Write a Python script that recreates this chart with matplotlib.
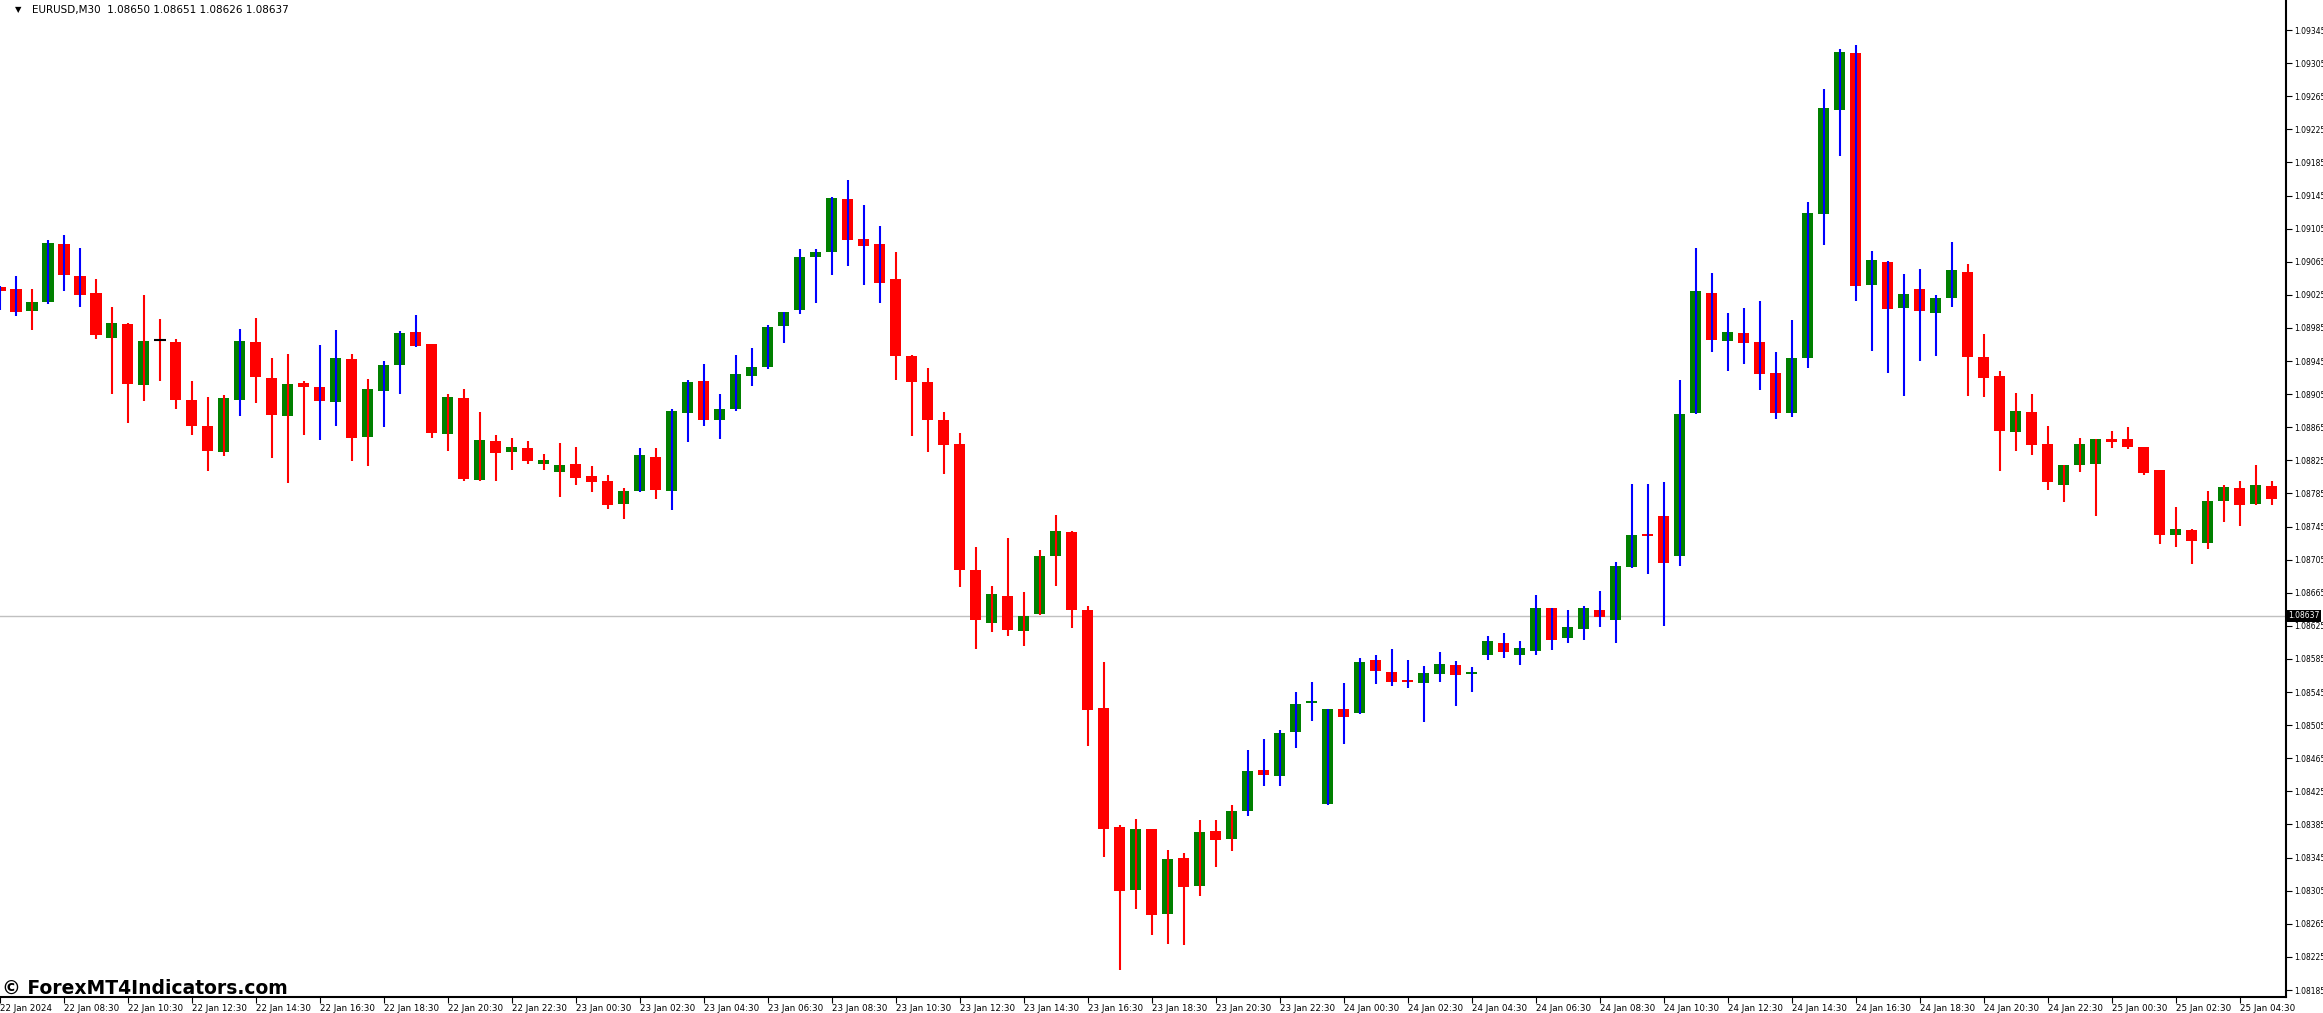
import matplotlib
matplotlib.use("Agg")
import matplotlib.pyplot as plt
import numpy as np

# EURUSD M30 candles, 22 Jan 2024 -> 25 Jan 2024
opens = [1.09035, 1.09032, 1.09005, 1.09016, 1.09086, 1.09048, 1.09027, 1.08973, 1.08990, 1.08916,
         1.08970, 1.08968, 1.08898, 1.08866, 1.08835, 1.08898, 1.08968, 1.08924, 1.08879, 1.08918,
         1.08914, 1.08895, 1.08947, 1.08853, 1.08909, 1.08940, 1.08980, 1.08966, 1.08857, 1.08900,
         1.08801, 1.08848, 1.08835, 1.08840, 1.08821, 1.08811, 1.08821, 1.08806, 1.08800, 1.08772,
         1.08788, 1.08829, 1.08788, 1.08882, 1.08921, 1.08874, 1.08887, 1.08927, 1.08938, 1.08987,
         1.09007, 1.09071, 1.09077, 1.09141, 1.09093, 1.09086, 1.09044, 1.08951, 1.08920, 1.08874,
         1.08845, 1.08692, 1.08628, 1.08661, 1.08619, 1.08639, 1.08709, 1.08738, 1.08644, 1.08526,
         1.08382, 1.08306, 1.08380, 1.08277, 1.08345, 1.08311, 1.08377, 1.08368, 1.08401, 1.08451,
         1.08444, 1.08497, 1.08532, 1.08410, 1.08524, 1.08520, 1.08584, 1.08569, 1.08560, 1.08556,
         1.08567, 1.08578, 1.08567, 1.08590, 1.08604, 1.08590, 1.08595, 1.08647, 1.08610, 1.08621,
         1.08644, 1.08632, 1.08696, 1.08736, 1.08758, 1.08709, 1.08882, 1.09027, 1.08969, 1.08979,
         1.08968, 1.08931, 1.08882, 1.08949, 1.09123, 1.09248, 1.09317, 1.09037, 1.09065, 1.09009,
         1.09032, 1.09003, 1.09021, 1.09053, 1.08950, 1.08927, 1.08859, 1.08883, 1.08845, 1.08795,
         1.08819, 1.08821, 1.08851, 1.08851, 1.08841, 1.08813, 1.08735, 1.08741, 1.08725, 1.08776,
         1.08792, 1.08772, 1.08794]
highs = [1.09036, 1.09048, 1.09032, 1.09091, 1.09097, 1.09082, 1.09044, 1.09010, 1.08991, 1.09025,
         1.08996, 1.08972, 1.08921, 1.08901, 1.08904, 1.08984, 1.08997, 1.08949, 1.08953, 1.08921,
         1.08964, 1.08982, 1.08953, 1.08923, 1.08945, 1.08981, 1.09001, 1.08966, 1.08905, 1.08911,
         1.08883, 1.08856, 1.08852, 1.08848, 1.08833, 1.08846, 1.08841, 1.08818, 1.08807, 1.08792,
         1.08840, 1.08840, 1.08887, 1.08922, 1.08941, 1.08905, 1.08952, 1.08961, 1.08988, 1.09004,
         1.09080, 1.09080, 1.09143, 1.09164, 1.09133, 1.09108, 1.09077, 1.08952, 1.08937, 1.08883,
         1.08858, 1.08720, 1.08673, 1.08731, 1.08666, 1.08717, 1.08759, 1.08740, 1.08649, 1.08581,
         1.08384, 1.08392, 1.08380, 1.08354, 1.08351, 1.08390, 1.08390, 1.08408, 1.08475, 1.08488,
         1.08499, 1.08545, 1.08557, 1.08524, 1.08556, 1.08586, 1.08590, 1.08597, 1.08584, 1.08576,
         1.08593, 1.08582, 1.08575, 1.08613, 1.08616, 1.08607, 1.08662, 1.08647, 1.08644, 1.08649,
         1.08667, 1.08702, 1.08796, 1.08796, 1.08799, 1.08922, 1.09082, 1.09051, 1.09003, 1.09009,
         1.09017, 1.08956, 1.08995, 1.09137, 1.09274, 1.09322, 1.09327, 1.09078, 1.09066, 1.09050,
         1.09056, 1.09025, 1.09089, 1.09062, 1.08978, 1.08933, 1.08906, 1.08905, 1.08866, 1.08819,
         1.08852, 1.08851, 1.08860, 1.08865, 1.08841, 1.08813, 1.08769, 1.08742, 1.08788, 1.08795,
         1.08800, 1.08819, 1.08800]
lows = [1.09007, 1.08999, 1.08982, 1.09014, 1.09030, 1.09010, 1.08972, 1.08905, 1.08870, 1.08897,
        1.08921, 1.08887, 1.08856, 1.08812, 1.08830, 1.08879, 1.08894, 1.08828, 1.08798, 1.08856,
        1.08850, 1.08866, 1.08824, 1.08818, 1.08865, 1.08905, 1.08962, 1.08852, 1.08836, 1.08800,
        1.08800, 1.08800, 1.08813, 1.08821, 1.08813, 1.08781, 1.08795, 1.08787, 1.08766, 1.08754,
        1.08787, 1.08778, 1.08765, 1.08847, 1.08866, 1.08851, 1.08885, 1.08915, 1.08935, 1.08967,
        1.09002, 1.09015, 1.09049, 1.09060, 1.09037, 1.09015, 1.08922, 1.08854, 1.08835, 1.08808,
        1.08672, 1.08597, 1.08618, 1.08613, 1.08601, 1.08638, 1.08673, 1.08622, 1.08480, 1.08346,
        1.08209, 1.08283, 1.08252, 1.08241, 1.08239, 1.08299, 1.08334, 1.08353, 1.08395, 1.08431,
        1.08431, 1.08477, 1.08510, 1.08408, 1.08482, 1.08518, 1.08555, 1.08552, 1.08550, 1.08509,
        1.08557, 1.08528, 1.08545, 1.08584, 1.08586, 1.08578, 1.08590, 1.08596, 1.08604, 1.08608,
        1.08624, 1.08604, 1.08695, 1.08688, 1.08625, 1.08697, 1.08881, 1.08956, 1.08933, 1.08941,
        1.08910, 1.08875, 1.08877, 1.08937, 1.09085, 1.09193, 1.09017, 1.08957, 1.08931, 1.08903,
        1.08945, 1.08951, 1.09010, 1.08903, 1.08901, 1.08812, 1.08836, 1.08831, 1.08789, 1.08775,
        1.08811, 1.08758, 1.08840, 1.08839, 1.08807, 1.08724, 1.08720, 1.08700, 1.08718, 1.08751,
        1.08746, 1.08771, 1.08771]
closes = [1.09030, 1.09004, 1.09016, 1.09088, 1.09049, 1.09025, 1.08976, 1.08991, 1.08917, 1.08969,
          1.08970, 1.08898, 1.08866, 1.08836, 1.08900, 1.08969, 1.08926, 1.08880, 1.08917, 1.08914,
          1.08897, 1.08949, 1.08852, 1.08911, 1.08940, 1.08979, 1.08963, 1.08858, 1.08901, 1.08802,
          1.08850, 1.08834, 1.08841, 1.08824, 1.08825, 1.08819, 1.08804, 1.08799, 1.08771, 1.08788,
          1.08831, 1.08789, 1.08885, 1.08920, 1.08874, 1.08887, 1.08929, 1.08938, 1.08986, 1.09004,
          1.09071, 1.09077, 1.09142, 1.09091, 1.09084, 1.09039, 1.08951, 1.08920, 1.08874, 1.08843,
          1.08692, 1.08632, 1.08663, 1.08620, 1.08637, 1.08709, 1.08740, 1.08644, 1.08523, 1.08380,
          1.08305, 1.08380, 1.08276, 1.08343, 1.08310, 1.08376, 1.08366, 1.08401, 1.08450, 1.08445,
          1.08495, 1.08531, 1.08534, 1.08524, 1.08515, 1.08581, 1.08570, 1.08557, 1.08557, 1.08568,
          1.08579, 1.08566, 1.08569, 1.08607, 1.08593, 1.08598, 1.08647, 1.08608, 1.08624, 1.08647,
          1.08636, 1.08697, 1.08735, 1.08734, 1.08701, 1.08881, 1.09030, 1.08970, 1.08980, 1.08967,
          1.08929, 1.08882, 1.08949, 1.09124, 1.09251, 1.09318, 1.09036, 1.09067, 1.09008, 1.09026,
          1.09006, 1.09021, 1.09055, 1.08950, 1.08924, 1.08860, 1.08885, 1.08843, 1.08799, 1.08819,
          1.08845, 1.08851, 1.08847, 1.08841, 1.08810, 1.08735, 1.08742, 1.08728, 1.08776, 1.08793,
          1.08771, 1.08795, 1.08778]
# wick colour per candle: 'b' blue, 'r' red
wick_codes = ("bbrbbbrrrr" "rrrrrbrrrr" "bbrrbbbrrr" "rrrrrrrrrr"
              "brbbbbbbbb" "bbbbbbrrrr" "rrrrrrrrrr" "rrrrrrrrbb"
              "bbbbbbbbbb" "bbbbbbbbbb" "bbbbbbbbbb" "bbbbbbbbbb"
              "bbbrrrrrrr" "rrrrrrrrrr" "rrr")
time_labels = ["22 Jan 2024", "22 Jan 08:30", "22 Jan 10:30", "22 Jan 12:30", "22 Jan 14:30",
               "22 Jan 16:30", "22 Jan 18:30", "22 Jan 20:30", "22 Jan 22:30",
               "23 Jan 00:30", "23 Jan 02:30", "23 Jan 04:30", "23 Jan 06:30", "23 Jan 08:30",
               "23 Jan 10:30", "23 Jan 12:30", "23 Jan 14:30", "23 Jan 16:30", "23 Jan 18:30",
               "23 Jan 20:30", "23 Jan 22:30",
               "24 Jan 00:30", "24 Jan 02:30", "24 Jan 04:30", "24 Jan 06:30", "24 Jan 08:30",
               "24 Jan 10:30", "24 Jan 12:30", "24 Jan 14:30", "24 Jan 16:30", "24 Jan 18:30",
               "24 Jan 20:30", "24 Jan 22:30",
               "25 Jan 00:30", "25 Jan 02:30", "25 Jan 04:30"]
price_ticks = [1.08185 + 0.0004 * i for i in range(30)]
last_price = 1.08637

W, H = 2323, 1013
fig = plt.figure(figsize=(W / 100, H / 100), dpi=100)
ax = fig.add_axes([0, 16 / H, 2286 / W, 1 - 16 / H])

o = np.array(opens); c = np.array(closes)
hi = np.array(highs); lo = np.array(lows)
x = np.arange(len(o))
up = c > o
down = c < o
flat = c == o
wick_col = ['#0000ff' if ch == 'b' else '#ff0000' for ch in wick_codes]

ax.axhline(last_price, color='#c0c0c0', lw=1, zorder=1)
ax.bar(x[up], (c - o)[up], bottom=o[up], width=0.69, color='#008000', linewidth=0, zorder=2)
ax.bar(x[down], (o - c)[down], bottom=c[down], width=0.69, color='#ff0000', linewidth=0, zorder=2)
ax.vlines(x, lo, hi, colors=wick_col, lw=1.5, zorder=3)
ax.hlines(o[flat], x[flat] - 0.35, x[flat] + 0.35, colors='black', lw=1.5, zorder=4)

ax.set_xlim(0, 142.9)
ax.set_ylim(1.09345 - 967 / 82759, 1.09345 + 30 / 82759)
for s in ['top', 'left']:
    ax.spines[s].set_visible(False)
ax.spines['right'].set_linewidth(1.5)
ax.spines['bottom'].set_linewidth(1.5)

ax.yaxis.tick_right()
ax.set_yticks(price_ticks)
ax.set_yticklabels([f"{p:.5f}" for p in price_ticks], fontsize=5.5)
ax.tick_params(axis='y', direction='out', length=4, pad=2)
ax.set_xticks(x[::4][:len(time_labels)])
ax.set_xticklabels(time_labels, fontsize=6.3, ha='left')
ax.tick_params(axis='x', direction='out', length=4, pad=1)

ax.text(1.001, last_price, f"{last_price:.5f}", transform=ax.get_yaxis_transform(),
        fontsize=5.5, color='white', va='center', ha='left',
        bbox=dict(facecolor='black', edgecolor='none', pad=1))

fig.text(15 / W, 1 - 10 / H, "\u25bc", fontsize=6, va='center')
fig.text(32 / W, 1 - 10 / H, "EURUSD,M30  1.08650 1.08651 1.08626 1.08637", fontsize=7.5, va='center')
fig.text(2 / W, 1 - 988 / H, "\u00a9 ForexMT4Indicators.com", fontsize=13.5, fontweight='bold',
         va='center')

fig.savefig("out.png", dpi=100)
